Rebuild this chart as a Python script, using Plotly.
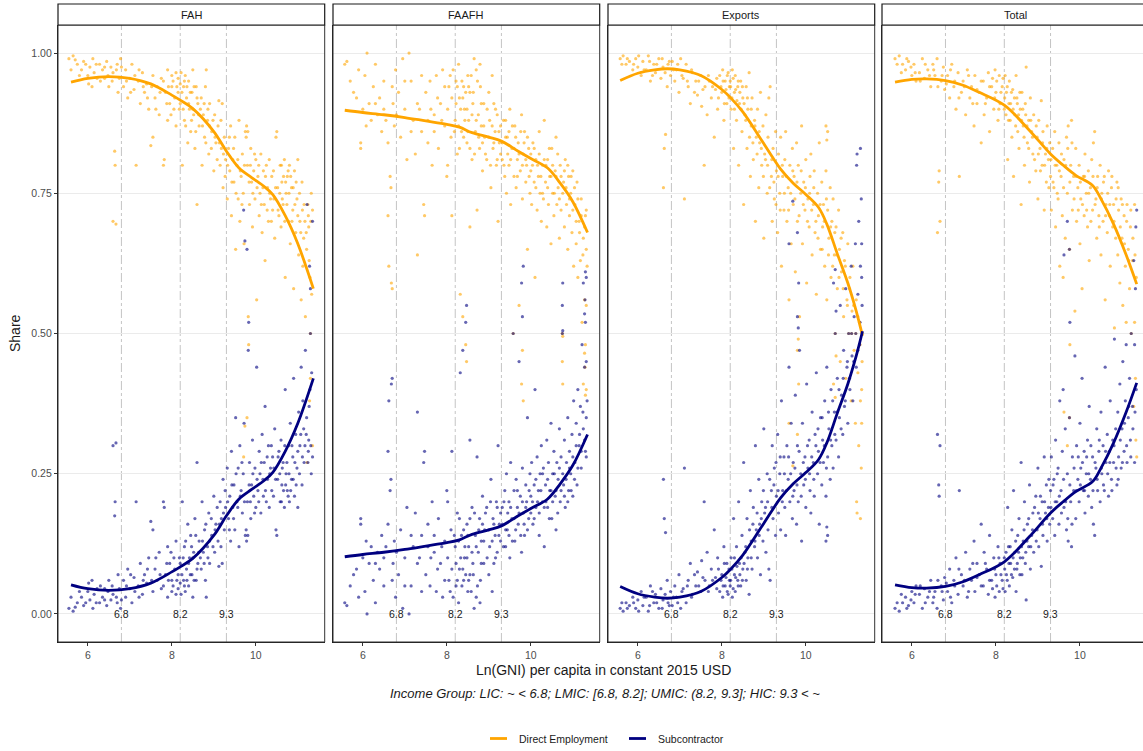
import plotly.graph_objects as go

# ---------------------------------------------------------------------------
# Data: subcontractor share by ln(GNI per capita); direct employment = 1 - share
# ---------------------------------------------------------------------------
PANELS = ["FAH", "FAAFH", "Exports", "Total"]
INCOME_CUTS = [6.8, 8.2, 9.3]
Y_TICKS = [0.0, 0.25, 0.50, 0.75, 1.00]
Y_TICK_TEXT = ["0.00", "0.25", "0.50", "0.75", "1.00"]
X_TICKS = [6, 8, 10]

FAH_SUB_POINTS = [
    (5.55, 0.01), (5.65, 0.005), (5.75, 0.02), (5.85, 0.03), (5.9, 0.015), (6.0, 0.04),
    (6.05, 0.025), (6.1, 0.06), (6.15, 0.035), (6.2, 0.02), (6.3, 0.05), (6.35, 0.03),
    (6.4, 0.045), (6.45, 0.015), (6.5, 0.06), (6.55, 0.025), (6.6, 0.035), (6.6, 0.30),
    (6.67, 0.305), (6.65, 0.20), (6.64, 0.175), (6.7, 0.02), (6.75, 0.045), (6.78, 0.01),
    (6.85, 0.06), (6.9, 0.03), (6.95, 0.08), (7.0, 0.045), (7.05, 0.02), (7.1, 0.065),
    (7.15, 0.2), (7.2, 0.05), (7.25, 0.09), (7.3, 0.035), (7.35, 0.07), (7.4, 0.055),
    (7.45, 0.1), (7.5, 0.165), (7.55, 0.15), (7.55, 0.04), (7.6, 0.08), (7.65, 0.06),
    (7.7, 0.11), (7.75, 0.045), (7.8, 0.2), (7.82, 0.19), (7.85, 0.07), (7.9, 0.12),
    (7.9, 0.03), (7.95, 0.09), (8.0, 0.04), (8.0, 0.06), (8.05, 0.1), (8.1, 0.035),
    (8.1, 0.13), (8.15, 0.07), (8.15, 0.045),
    (8.2, 0.09), (8.22, 0.035), (8.25, 0.2), (8.28, 0.06), (8.3, 0.12), (8.32, 0.04),
    (8.35, 0.08), (8.38, 0.16), (8.4, 0.05), (8.42, 0.1), (8.45, 0.14), (8.48, 0.07),
    (8.5, 0.03), (8.52, 0.11), (8.55, 0.17), (8.58, 0.06), (8.6, 0.27), (8.62, 0.09),
    (8.65, 0.13), (8.7, 0.08), (8.72, 0.2), (8.75, 0.11), (8.78, 0.15), (8.8, 0.06),
    (8.82, 0.03), (8.85, 0.12), (8.88, 0.18), (8.9, 0.09), (8.95, 0.14), (9.0, 0.21),
    (9.02, 0.11), (9.05, 0.16), (9.1, 0.13), (9.12, 0.085), (9.15, 0.2), (9.18, 0.17),
    (9.2, 0.09), (9.22, 0.24), (9.25, 0.15), (9.28, 0.19),
    (9.32, 0.26), (9.35, 0.17), (9.38, 0.21), (9.4, 0.13), (9.42, 0.29), (9.45, 0.19),
    (9.48, 0.23), (9.5, 0.15), (9.52, 0.35), (9.55, 0.2), (9.58, 0.26), (9.6, 0.12),
    (9.62, 0.3), (9.65, 0.22), (9.68, 0.18), (9.7, 0.25), (9.72, 0.34), (9.75, 0.14),
    (9.78, 0.13), (9.8, 0.2), (9.82, 0.47), (9.85, 0.27), (9.88, 0.17), (9.9, 0.23),
    (9.92, 0.31), (9.95, 0.21), (9.98, 0.26), (10.0, 0.19), (10.02, 0.44), (10.05, 0.22),
    (10.08, 0.29), (10.1, 0.25), (10.12, 0.18), (10.15, 0.32), (10.18, 0.21), (10.2, 0.27),
    (10.22, 0.37), (10.25, 0.2), (10.28, 0.24), (10.3, 0.3), (10.32, 0.19), (10.35, 0.26),
    (10.38, 0.22), (10.4, 0.28), (10.42, 0.21), (10.45, 0.33), (10.48, 0.15), (10.5, 0.14),
    (10.52, 0.24), (10.55, 0.29), (10.58, 0.2), (10.6, 0.31), (10.62, 0.23), (10.65, 0.27),
    (10.68, 0.19), (10.7, 0.4), (10.72, 0.25), (10.75, 0.22), (10.78, 0.3), (10.8, 0.2),
    (10.82, 0.34), (10.85, 0.24), (10.88, 0.28), (10.9, 0.42), (10.92, 0.21), (10.95, 0.32),
    (10.98, 0.26), (11.0, 0.19), (11.02, 0.36), (11.05, 0.3), (11.08, 0.44), (11.1, 0.23),
    (11.12, 0.38), (11.15, 0.27), (11.18, 0.47), (11.2, 0.32), (11.22, 0.73), (11.25, 0.29),
    (11.28, 0.62), (11.3, 0.5), (11.32, 0.25), (11.35, 0.7), (11.33, 0.43), (11.3, 0.58),
    (11.27, 0.37), (11.35, 0.28), (9.71, 0.72), (9.74, 0.665), (9.79, 0.65), (9.83, 0.52),
    (5.6, 0.03), (5.7, 0.012), (5.8, 0.04), (5.95, 0.02), (6.02, 0.055), (6.12, 0.01),
    (6.22, 0.045), (6.28, 0.02), (6.4, 0.025), (6.48, 0.04), (6.58, 0.05), (6.68, 0.03),
    (6.72, 0.07), (6.8, 0.025), (6.92, 0.05), (7.02, 0.07), (7.12, 0.04), (7.22, 0.03),
    (7.32, 0.06), (7.42, 0.08), (7.52, 0.06), (7.62, 0.1), (7.72, 0.07), (7.8, 0.05),
    (7.88, 0.09), (7.92, 0.06), (7.98, 0.11), (8.03, 0.05), (8.07, 0.08), (8.12, 0.06),
    (8.18, 0.1), (8.2, 0.055), (8.24, 0.07), (8.27, 0.1), (8.3, 0.05), (8.33, 0.13),
    (8.36, 0.06), (8.4, 0.09), (8.44, 0.07), (8.47, 0.12), (8.5, 0.1), (8.53, 0.06),
    (8.57, 0.14), (8.6, 0.08), (8.64, 0.11), (8.68, 0.1), (8.73, 0.13), (8.77, 0.09),
    (8.81, 0.16), (8.86, 0.1), (8.9, 0.13), (8.94, 0.17), (8.98, 0.12), (9.03, 0.15),
    (9.08, 0.19), (9.13, 0.16), (9.17, 0.12), (9.23, 0.18), (9.27, 0.22), (9.33, 0.2),
    (9.37, 0.15), (9.43, 0.23), (9.47, 0.17), (9.53, 0.25), (9.57, 0.19), (9.63, 0.21),
    (9.67, 0.27), (9.73, 0.2), (9.77, 0.15), (9.81, 0.14), (9.84, 0.23), (9.87, 0.2),
    (9.93, 0.25), (9.97, 0.18), (10.03, 0.24), (10.07, 0.2), (10.13, 0.27), (10.17, 0.24),
    (10.23, 0.22), (10.27, 0.28), (10.33, 0.25), (10.37, 0.3), (10.43, 0.26), (10.47, 0.24),
    (10.53, 0.28), (10.57, 0.25), (10.61, 0.2), (10.63, 0.26), (10.66, 0.22), (10.69, 0.3),
    (10.71, 0.23), (10.74, 0.27), (10.77, 0.21), (10.79, 0.25), (10.83, 0.22), (10.86, 0.3),
    (10.89, 0.24), (10.93, 0.27), (10.96, 0.23), (11.0, 0.29), (11.04, 0.25), (11.07, 0.32),
    (11.11, 0.28), (11.14, 0.33), (11.17, 0.3), (11.21, 0.35), (11.24, 0.27), (11.26, 0.31),
    (11.29, 0.4), (11.31, 0.3),
]

FAAFH_SUB_POINTS = [
    (5.57, 0.02), (5.62, 0.015), (5.7, 0.05), (5.78, 0.07), (5.85, 0.08), (5.95, 0.17),
    (5.95, 0.16), (6.0, 0.1), (6.05, 0.04), (6.1, 0.0), (6.15, 0.09), (6.2, 0.12),
    (6.25, 0.06), (6.3, 0.02), (6.35, 0.11), (6.4, 0.08), (6.45, 0.14), (6.5, 0.05),
    (6.55, 0.12), (6.6, 0.16), (6.6, 0.29), (6.62, 0.38), (6.65, 0.22), (6.67, 0.24),
    (6.68, 0.41), (6.7, 0.42), (6.72, 0.09), (6.75, 0.13), (6.78, 0.03),
    (6.85, 0.07), (6.9, 0.15), (6.95, 0.01), (7.0, 0.1), (7.05, 0.19), (7.1, 0.0),
    (7.15, 0.05), (7.2, 0.12), (7.25, 0.18), (7.3, 0.36), (7.35, 0.1), (7.4, 0.14),
    (7.45, 0.27), (7.47, 0.29), (7.5, 0.07), (7.55, 0.12), (7.6, 0.05), (7.65, 0.2),
    (7.7, 0.11), (7.75, 0.04), (7.8, 0.17), (7.85, 0.09), (7.9, 0.03), (7.95, 0.13),
    (8.0, 0.22), (8.02, 0.2), (8.05, 0.06), (8.1, 0.15), (8.12, 0.29), (8.15, 0.03),
    (8.2, 0.12), (8.22, 0.05), (8.25, 0.18), (8.28, 0.02), (8.3, 0.08), (8.32, 0.43),
    (8.35, 0.14), (8.38, 0.47), (8.4, 0.06), (8.42, 0.1), (8.45, 0.52), (8.47, 0.55),
    (8.48, 0.16), (8.5, 0.04), (8.52, 0.12), (8.55, 0.07), (8.55, 0.31), (8.6, 0.19),
    (8.62, 0.09), (8.65, 0.01), (8.68, 0.14), (8.7, 0.03), (8.72, 0.28), (8.75, 0.11),
    (8.78, 0.17), (8.8, 0.06), (8.82, 0.13), (8.85, 0.21), (8.88, 0.09), (8.9, 0.15),
    (8.95, 0.19), (9.0, 0.07), (9.02, 0.12), (9.05, 0.24), (9.08, 0.04), (9.1, 0.17),
    (9.12, 0.09), (9.15, 0.14), (9.18, 0.2), (9.2, 0.11), (9.22, 0.3), (9.25, 0.16),
    (9.28, 0.13),
    (9.32, 0.19), (9.35, 0.12), (9.38, 0.22), (9.4, 0.15), (9.42, 0.25), (9.45, 0.18),
    (9.48, 0.2), (9.5, 0.1), (9.52, 0.27), (9.55, 0.17), (9.58, 0.5), (9.6, 0.22),
    (9.62, 0.13), (9.65, 0.24), (9.68, 0.19), (9.7, 0.16), (9.72, 0.45), (9.75, 0.21),
    (9.78, 0.11), (9.8, 0.26), (9.82, 0.18), (9.85, 0.14), (9.88, 0.23), (9.9, 0.2),
    (9.92, 0.35), (9.95, 0.17), (9.98, 0.25), (10.0, 0.21), (10.02, 0.27), (10.05, 0.16),
    (10.08, 0.23), (10.1, 0.4), (10.12, 0.19), (10.15, 0.28), (10.18, 0.22), (10.2, 0.14),
    (10.22, 0.25), (10.25, 0.3), (10.28, 0.2), (10.3, 0.26), (10.32, 0.12), (10.35, 0.23),
    (10.38, 0.31), (10.4, 0.19), (10.42, 0.27), (10.45, 0.22), (10.48, 0.34), (10.5, 0.17),
    (10.52, 0.25), (10.55, 0.29), (10.58, 0.21), (10.6, 0.15), (10.62, 0.27), (10.65, 0.24),
    (10.68, 0.33), (10.7, 0.2), (10.72, 0.28), (10.75, 0.5), (10.75, 0.55), (10.78, 0.23),
    (10.8, 0.31), (10.82, 0.19), (10.85, 0.27), (10.88, 0.35), (10.9, 0.22), (10.92, 0.29),
    (10.95, 0.25), (10.98, 0.32), (11.0, 0.21), (11.02, 0.38), (11.05, 0.27), (11.08, 0.34),
    (11.1, 0.23), (11.12, 0.4), (11.15, 0.3), (11.18, 0.37), (11.2, 0.26), (11.22, 0.48),
    (11.25, 0.33), (11.28, 0.44), (11.3, 0.29), (11.32, 0.35), (11.34, 0.38), (11.25, 0.59),
    (11.3, 0.52), (11.32, 0.45), (9.8, 0.53), (9.78, 0.59), (9.82, 0.62), (10.76, 0.59),
    (10.76, 0.505), (11.3, 0.61), (11.29, 0.56), (11.28, 0.535), (11.32, 0.6),
    (5.9, 0.03), (6.08, 0.13), (6.3, 0.09), (6.5, 0.1), (6.7, 0.06), (6.8, 0.11),
    (7.0, 0.05), (7.15, 0.14), (7.3, 0.09), (7.4, 0.04), (7.55, 0.16), (7.62, 0.1),
    (7.7, 0.14), (7.78, 0.08), (7.88, 0.12), (7.95, 0.06), (8.02, 0.1), (8.08, 0.04),
    (8.12, 0.08), (8.18, 0.14), (8.22, 0.09), (8.25, 0.06), (8.28, 0.13), (8.3, 0.17),
    (8.33, 0.1), (8.36, 0.05), (8.38, 0.08), (8.4, 0.15), (8.43, 0.12), (8.45, 0.07),
    (8.48, 0.1), (8.5, 0.14), (8.52, 0.06), (8.55, 0.17), (8.58, 0.04), (8.6, 0.11),
    (8.63, 0.07), (8.66, 0.18), (8.7, 0.12), (8.73, 0.05), (8.76, 0.15), (8.79, 0.02),
    (8.82, 0.09), (8.85, 0.16), (8.88, 0.13), (8.92, 0.18), (8.96, 0.1), (9.0, 0.15),
    (9.04, 0.2), (9.08, 0.13), (9.12, 0.16), (9.16, 0.1), (9.2, 0.19), (9.24, 0.14),
    (9.28, 0.18), (9.32, 0.16), (9.36, 0.2), (9.4, 0.12), (9.44, 0.15), (9.48, 0.14),
    (9.52, 0.19), (9.56, 0.13), (9.6, 0.17), (9.64, 0.15), (9.68, 0.22), (9.72, 0.18),
    (9.76, 0.14), (9.8, 0.2), (9.84, 0.16), (9.88, 0.19), (9.92, 0.15), (9.96, 0.22),
    (10.0, 0.18), (10.04, 0.2), (10.08, 0.17), (10.12, 0.24), (10.16, 0.2), (10.2, 0.18),
    (10.24, 0.22), (10.28, 0.25), (10.32, 0.19), (10.36, 0.2), (10.4, 0.24), (10.44, 0.17),
    (10.48, 0.22), (10.52, 0.2), (10.56, 0.25), (10.6, 0.22), (10.64, 0.18), (10.68, 0.26),
    (10.72, 0.22), (10.76, 0.25), (10.8, 0.21), (10.84, 0.24), (10.88, 0.2), (10.92, 0.26),
    (10.96, 0.22), (11.0, 0.28), (11.04, 0.24), (11.08, 0.3), (11.12, 0.26), (11.16, 0.32),
    (11.2, 0.29), (11.24, 0.36), (11.28, 0.31), (11.32, 0.28),
]

EXPORTS_SUB_POINTS = [
    (5.58, 0.01), (5.65, 0.005), (5.72, 0.02), (5.8, 0.015), (5.88, 0.03), (5.95, 0.01),
    (6.0, 0.025), (6.08, 0.04), (6.12, 0.015), (6.2, 0.03), (6.25, 0.005), (6.3, 0.05),
    (6.38, 0.02), (6.42, 0.035), (6.5, 0.01), (6.55, 0.045), (6.6, 0.025), (6.61, 0.24),
    (6.63, 0.17), (6.66, 0.145), (6.7, 0.06), (6.72, 0.02), (6.78, 0.04),
    (6.82, 0.015), (6.88, 0.05), (6.92, 0.03), (6.98, 0.07), (7.02, 0.01), (7.08, 0.045),
    (7.11, 0.26), (7.15, 0.02), (7.2, 0.06), (7.25, 0.09), (7.3, 0.035), (7.38, 0.05),
    (7.42, 0.075), (7.5, 0.04), (7.52, 0.095), (7.58, 0.2), (7.6, 0.06), (7.65, 0.11),
    (7.7, 0.05), (7.75, 0.08), (7.82, 0.15), (7.85, 0.065), (7.9, 0.1), (7.95, 0.04),
    (8.0, 0.07), (8.02, 0.03), (8.05, 0.12), (8.08, 0.05), (8.12, 0.09), (8.15, 0.035),
    (8.18, 0.06),
    (8.2, 0.05), (8.22, 0.1), (8.25, 0.03), (8.28, 0.17), (8.3, 0.07), (8.32, 0.04),
    (8.35, 0.12), (8.38, 0.06), (8.4, 0.2), (8.42, 0.09), (8.45, 0.05), (8.48, 0.14),
    (8.5, 0.08), (8.52, 0.27), (8.55, 0.11), (8.58, 0.06), (8.6, 0.17), (8.62, 0.1),
    (8.65, 0.035), (8.68, 0.22), (8.7, 0.13), (8.72, 0.08), (8.75, 0.19), (8.78, 0.12),
    (8.8, 0.3), (8.82, 0.15), (8.85, 0.1), (8.88, 0.24), (8.9, 0.16), (8.92, 0.07),
    (8.95, 0.2), (8.98, 0.13), (9.0, 0.33), (9.02, 0.18), (9.05, 0.11), (9.08, 0.25),
    (9.1, 0.15), (9.12, 0.08), (9.15, 0.06), (9.18, 0.22), (9.2, 0.3), (9.22, 0.17),
    (9.25, 0.26), (9.28, 0.14),
    (9.3, 0.21), (9.33, 0.32), (9.35, 0.18), (9.38, 0.25), (9.4, 0.15), (9.42, 0.38),
    (9.45, 0.22), (9.48, 0.28), (9.5, 0.19), (9.52, 0.14), (9.55, 0.3), (9.58, 0.24),
    (9.6, 0.44), (9.62, 0.2), (9.65, 0.34), (9.68, 0.17), (9.7, 0.27), (9.72, 0.22),
    (9.75, 0.39), (9.78, 0.16), (9.8, 0.3), (9.82, 0.2), (9.85, 0.47), (9.88, 0.25),
    (9.9, 0.13), (9.92, 0.34), (9.95, 0.23), (9.98, 0.28), (10.0, 0.19), (10.02, 0.41),
    (10.05, 0.26), (10.08, 0.31), (10.1, 0.22), (10.12, 0.18), (10.15, 0.36), (10.18, 0.27),
    (10.2, 0.21), (10.22, 0.32), (10.25, 0.43), (10.28, 0.25), (10.3, 0.29), (10.32, 0.16),
    (10.35, 0.35), (10.38, 0.23), (10.4, 0.31), (10.42, 0.27), (10.45, 0.38), (10.48, 0.21),
    (10.5, 0.44), (10.52, 0.28), (10.55, 0.33), (10.58, 0.24), (10.6, 0.4), (10.62, 0.3),
    (10.65, 0.26), (10.68, 0.36), (10.7, 0.5), (10.72, 0.31), (10.75, 0.42), (10.78, 0.28),
    (10.8, 0.35), (10.82, 0.55), (10.85, 0.39), (10.88, 0.32), (10.9, 0.47), (10.92, 0.37),
    (10.95, 0.58), (10.98, 0.44), (11.0, 0.34), (11.02, 0.5), (11.05, 0.4), (11.08, 0.62),
    (11.1, 0.46), (11.12, 0.38), (11.15, 0.53), (11.18, 0.66), (11.2, 0.44), (11.22, 0.82),
    (11.21, 0.8), (11.24, 0.57), (11.26, 0.7), (11.28, 0.48), (11.3, 0.62), (11.32, 0.74),
    (11.34, 0.55), (11.3, 0.83), (11.33, 0.66), (10.48, 0.13), (10.52, 0.14), (10.5, 0.155),
    (9.8, 0.53), (9.82, 0.51), (9.69, 0.736), (9.8, 0.68), (9.6, 0.66), (9.83, 0.59),
    (10.7, 0.614), (10.66, 0.59), (10.72, 0.54),
    (5.62, 0.02), (5.75, 0.01), (5.9, 0.02), (6.02, 0.005), (6.15, 0.03), (6.28, 0.015),
    (6.35, 0.04), (6.45, 0.02), (6.58, 0.01), (6.65, 0.035), (6.75, 0.015), (6.85, 0.03),
    (6.95, 0.02), (7.05, 0.04), (7.18, 0.05), (7.28, 0.03), (7.35, 0.07), (7.45, 0.05),
    (7.55, 0.065), (7.68, 0.04), (7.78, 0.06), (7.88, 0.045), (7.92, 0.08), (7.98, 0.06),
    (8.03, 0.05), (8.06, 0.09), (8.1, 0.065), (8.13, 0.04), (8.17, 0.08), (8.21, 0.06),
    (8.24, 0.08), (8.27, 0.045), (8.3, 0.1), (8.33, 0.065), (8.36, 0.085), (8.39, 0.05),
    (8.43, 0.07), (8.46, 0.1), (8.49, 0.06), (8.53, 0.09), (8.57, 0.12), (8.61, 0.08),
    (8.66, 0.15), (8.7, 0.1), (8.74, 0.16), (8.79, 0.13), (8.84, 0.18), (8.89, 0.14),
    (8.94, 0.17), (8.99, 0.22), (9.04, 0.19), (9.09, 0.2), (9.14, 0.24), (9.19, 0.19),
    (9.24, 0.23), (9.29, 0.27), (9.34, 0.22), (9.39, 0.28), (9.44, 0.2), (9.49, 0.25),
    (9.54, 0.22), (9.59, 0.28), (9.64, 0.25), (9.69, 0.21), (9.74, 0.26), (9.79, 0.23),
    (9.84, 0.29), (9.89, 0.21), (9.94, 0.27), (9.99, 0.24), (10.04, 0.3), (10.09, 0.25),
    (10.14, 0.28), (10.19, 0.24), (10.24, 0.3), (10.29, 0.33), (10.34, 0.27), (10.39, 0.35),
    (10.44, 0.3), (10.49, 0.26), (10.54, 0.36), (10.59, 0.31), (10.64, 0.38), (10.69, 0.32),
    (10.74, 0.36), (10.79, 0.4), (10.84, 0.33), (10.89, 0.42), (10.94, 0.38), (10.99, 0.45),
    (11.04, 0.42), (11.09, 0.5), (11.14, 0.45), (11.19, 0.5), (11.24, 0.47), (11.29, 0.52),
    (11.33, 0.6),
]

TOTAL_SUB_POINTS = [
    (5.6, 0.01), (5.7, 0.005), (5.78, 0.02), (5.85, 0.03), (5.92, 0.015), (6.0, 0.04),
    (6.05, 0.02), (6.1, 0.05), (6.18, 0.035), (6.25, 0.01), (6.3, 0.045), (6.38, 0.03),
    (6.45, 0.06), (6.5, 0.02), (6.55, 0.04), (6.6, 0.01), (6.61, 0.32), (6.67, 0.3),
    (6.64, 0.23), (6.65, 0.21), (6.7, 0.05), (6.75, 0.025), (6.78, 0.065),
    (6.85, 0.04), (6.9, 0.08), (6.95, 0.02), (7.0, 0.06), (7.05, 0.1), (7.1, 0.035),
    (7.13, 0.22), (7.18, 0.07), (7.22, 0.05), (7.28, 0.11), (7.32, 0.03), (7.38, 0.08),
    (7.42, 0.06), (7.48, 0.13), (7.5, 0.04), (7.55, 0.09), (7.6, 0.07), (7.65, 0.16),
    (7.7, 0.05), (7.72, 0.11), (7.78, 0.08), (7.82, 0.035), (7.85, 0.14), (7.9, 0.06),
    (7.95, 0.1), (7.98, 0.03), (8.0, 0.07), (8.05, 0.12), (8.08, 0.04), (8.1, 0.09),
    (8.15, 0.06),
    (8.2, 0.1), (8.22, 0.04), (8.25, 0.07), (8.28, 0.19), (8.3, 0.12), (8.32, 0.05),
    (8.35, 0.09), (8.38, 0.15), (8.4, 0.065), (8.42, 0.22), (8.45, 0.11), (8.48, 0.04),
    (8.5, 0.08), (8.52, 0.14), (8.55, 0.17), (8.58, 0.1), (8.6, 0.27), (8.62, 0.07),
    (8.65, 0.13), (8.68, 0.2), (8.7, 0.09), (8.72, 0.025), (8.75, 0.16), (8.78, 0.12),
    (8.8, 0.23), (8.82, 0.08), (8.85, 0.14), (8.88, 0.18), (8.9, 0.11), (8.95, 0.21),
    (8.98, 0.15), (9.0, 0.26), (9.02, 0.12), (9.05, 0.17), (9.08, 0.085), (9.1, 0.2),
    (9.12, 0.14), (9.15, 0.28), (9.18, 0.18), (9.2, 0.23), (9.22, 0.13), (9.25, 0.19),
    (9.28, 0.16),
    (9.3, 0.22), (9.32, 0.28), (9.35, 0.17), (9.38, 0.24), (9.4, 0.14), (9.42, 0.31),
    (9.45, 0.2), (9.48, 0.26), (9.5, 0.16), (9.52, 0.38), (9.55, 0.22), (9.58, 0.29),
    (9.6, 0.4), (9.62, 0.19), (9.65, 0.33), (9.68, 0.15), (9.7, 0.25), (9.72, 0.13),
    (9.75, 0.35), (9.78, 0.2), (9.8, 0.12), (9.82, 0.28), (9.85, 0.22), (9.88, 0.46),
    (9.9, 0.17), (9.92, 0.3), (9.95, 0.24), (9.98, 0.2), (10.0, 0.34), (10.02, 0.26),
    (10.05, 0.42), (10.08, 0.22), (10.1, 0.29), (10.12, 0.18), (10.15, 0.25), (10.18, 0.31),
    (10.2, 0.21), (10.22, 0.37), (10.25, 0.24), (10.28, 0.19), (10.3, 0.28), (10.32, 0.16),
    (10.35, 0.14), (10.38, 0.26), (10.4, 0.33), (10.42, 0.22), (10.45, 0.29), (10.48, 0.2),
    (10.5, 0.36), (10.52, 0.25), (10.55, 0.3), (10.58, 0.22), (10.6, 0.44), (10.62, 0.27),
    (10.65, 0.32), (10.68, 0.21), (10.7, 0.29), (10.72, 0.38), (10.75, 0.24), (10.78, 0.31),
    (10.8, 0.27), (10.82, 0.49), (10.85, 0.33), (10.88, 0.23), (10.9, 0.36), (10.92, 0.28),
    (10.95, 0.41), (10.98, 0.26), (11.0, 0.33), (11.02, 0.45), (11.05, 0.29), (11.08, 0.38),
    (11.1, 0.48), (11.12, 0.27), (11.15, 0.35), (11.18, 0.42), (11.2, 0.31), (11.22, 0.5),
    (11.25, 0.37), (11.28, 0.63), (11.3, 0.27), (11.32, 0.58), (11.33, 0.69), (11.35, 0.72),
    (11.3, 0.48), (11.34, 0.4), (9.7, 0.7), (9.62, 0.64), (9.75, 0.65), (9.76, 0.52),
    (5.65, 0.02), (5.75, 0.035), (5.88, 0.01), (5.98, 0.025), (6.08, 0.035), (6.2, 0.05),
    (6.32, 0.02), (6.42, 0.04), (6.52, 0.03), (6.62, 0.06), (6.72, 0.04), (6.82, 0.055),
    (6.92, 0.03), (7.02, 0.05), (7.12, 0.08), (7.25, 0.06), (7.35, 0.04), (7.45, 0.09),
    (7.55, 0.065), (7.65, 0.05), (7.75, 0.09), (7.85, 0.06), (7.92, 0.045), (7.97, 0.08),
    (8.02, 0.05), (8.07, 0.1), (8.12, 0.07), (8.17, 0.045), (8.21, 0.08), (8.24, 0.11),
    (8.27, 0.06), (8.31, 0.09), (8.34, 0.12), (8.37, 0.07), (8.41, 0.1), (8.44, 0.08),
    (8.47, 0.13), (8.51, 0.09), (8.54, 0.11), (8.57, 0.07), (8.61, 0.12), (8.64, 0.1),
    (8.67, 0.15), (8.71, 0.11), (8.74, 0.13), (8.78, 0.17), (8.83, 0.12), (8.87, 0.15),
    (8.92, 0.19), (8.96, 0.13), (9.01, 0.18), (9.06, 0.21), (9.11, 0.16), (9.16, 0.2),
    (9.21, 0.17), (9.26, 0.24), (9.31, 0.19), (9.36, 0.23), (9.41, 0.2), (9.46, 0.25),
    (9.51, 0.21), (9.56, 0.18), (9.61, 0.24), (9.66, 0.2), (9.71, 0.17), (9.76, 0.23),
    (9.81, 0.16), (9.86, 0.26), (9.91, 0.22), (9.96, 0.28), (10.01, 0.23), (10.06, 0.27),
    (10.11, 0.22), (10.16, 0.28), (10.21, 0.25), (10.26, 0.3), (10.31, 0.22), (10.36, 0.27),
    (10.41, 0.24), (10.46, 0.31), (10.51, 0.26), (10.56, 0.23), (10.61, 0.29), (10.66, 0.25),
    (10.71, 0.27), (10.76, 0.22), (10.81, 0.3), (10.86, 0.26), (10.91, 0.24), (10.96, 0.31),
    (11.01, 0.27), (11.06, 0.34), (11.11, 0.3), (11.16, 0.37), (11.21, 0.28), (11.26, 0.33),
    (11.31, 0.36),
]

# Loess-style fitted subcontractor share (x, fitted share)
FAH_SUB_FIT = [
    (5.6, 0.052), (6.0, 0.045), (6.5, 0.042), (7.0, 0.045), (7.5, 0.055), (8.0, 0.075),
    (8.2, 0.084), (8.5, 0.099), (9.0, 0.14), (9.3, 0.175), (9.6, 0.205), (9.9, 0.222),
    (10.2, 0.238), (10.4, 0.252), (10.7, 0.29), (11.0, 0.34), (11.37, 0.42),
]
FAAFH_SUB_FIT = [
    (5.57, 0.102), (6.0, 0.106), (6.5, 0.110), (7.0, 0.115), (7.5, 0.121), (8.0, 0.127),
    (8.3, 0.132), (8.6, 0.142), (9.0, 0.150), (9.3, 0.157), (9.7, 0.175), (10.0, 0.188),
    (10.4, 0.205), (10.7, 0.232), (11.0, 0.265), (11.35, 0.32),
]
EXPORTS_SUB_FIT = [
    (5.58, 0.049), (6.0, 0.036), (6.4, 0.030), (6.7, 0.028), (7.0, 0.030), (7.5, 0.040),
    (8.0, 0.065), (8.2, 0.079), (8.5, 0.105), (8.9, 0.150), (9.2, 0.185), (9.4, 0.207),
    (9.7, 0.232), (10.0, 0.252), (10.3, 0.275), (10.5, 0.305), (10.75, 0.358), (11.0, 0.41),
    (11.2, 0.46), (11.35, 0.504),
]
TOTAL_SUB_FIT = [
    (5.6, 0.052), (6.0, 0.047), (6.35, 0.046), (6.8, 0.049), (7.2, 0.057), (7.6, 0.07),
    (8.2, 0.093), (8.8, 0.138), (9.3, 0.18), (9.6, 0.2), (9.9, 0.218), (10.3, 0.236),
    (10.5, 0.26), (10.8, 0.305), (11.1, 0.36), (11.35, 0.412),
]

SUB_POINTS = [FAH_SUB_POINTS, FAAFH_SUB_POINTS, EXPORTS_SUB_POINTS, TOTAL_SUB_POINTS]
SUB_FITS = [FAH_SUB_FIT, FAAFH_SUB_FIT, EXPORTS_SUB_FIT, TOTAL_SUB_FIT]

# ---------------------------------------------------------------------------
# Styling / layout
# ---------------------------------------------------------------------------
W, H = 1143, 751
ORANGE = "#FFA500"
NAVY = "#000080"
FONT = "Liberation Sans, Arial, Helvetica, sans-serif"
TXT = "#1a1a1a"
GREY_TXT = "#4d4d4d"


def fx(px):
    return px / W


def fy(py):
    return 1 - py / H


PANEL_LEFT = [58, 333, 608, 882]
PANEL_WIDTH = 266.7
X_RANGES = [[5.29, 11.64], [5.29, 11.64], [5.29, 11.64], [5.29, 11.5]]
Y_DOMAIN = [fy(642), fy(25)]
STRIP = [fy(25), fy(4)]

fig = go.Figure()

for i, (pts, fit) in enumerate(zip(SUB_POINTS, SUB_FITS)):
    xa = "x" if i == 0 else f"x{i+1}"
    ya = "y" if i == 0 else f"y{i+1}"
    gx = [p[0] for p in pts]
    sub = [p[1] for p in pts]
    direct = [1 - v for v in sub]
    fit_x = [p[0] for p in fit]
    fit_sub = [p[1] for p in fit]
    fit_direct = [1 - v for v in fit_sub]

    fig.add_trace(go.Scatter(x=gx, y=direct, mode="markers", xaxis=xa, yaxis=ya,
                             marker=dict(color=ORANGE, size=3.2, opacity=0.6, line=dict(width=0)),
                             showlegend=False, hoverinfo="skip"))
    fig.add_trace(go.Scatter(x=gx, y=sub, mode="markers", xaxis=xa, yaxis=ya,
                             marker=dict(color=NAVY, size=3.2, opacity=0.6, line=dict(width=0)),
                             showlegend=False, hoverinfo="skip"))
    fig.add_trace(go.Scatter(x=fit_x, y=fit_direct, mode="lines", xaxis=xa, yaxis=ya,
                             line=dict(color=ORANGE, width=2.8, shape="spline", smoothing=1.0),
                             showlegend=False, hoverinfo="skip"))
    fig.add_trace(go.Scatter(x=fit_x, y=fit_sub, mode="lines", xaxis=xa, yaxis=ya,
                             line=dict(color=NAVY, width=2.8, shape="spline", smoothing=1.0),
                             showlegend=False, hoverinfo="skip"))

layout = dict(
    width=W, height=H,
    margin=dict(l=0, r=0, t=0, b=0),
    paper_bgcolor="white", plot_bgcolor="white",
    showlegend=False,
    font=dict(family=FONT, color=TXT),
)

shapes = []
annotations = []

for i in range(4):
    left = PANEL_LEFT[i]
    right = left + PANEL_WIDTH
    x0 = fx(left)
    x1 = fx(right) if i < 3 else 1.0
    xname = "xaxis" if i == 0 else f"xaxis{i+1}"
    yname = "yaxis" if i == 0 else f"yaxis{i+1}"
    xref = "x" if i == 0 else f"x{i+1}"
    yref = "y" if i == 0 else f"y{i+1}"
    layout[xname] = dict(
        domain=[x0, x1], range=X_RANGES[i], anchor=yref,
        tickvals=X_TICKS, ticktext=[str(t) for t in X_TICKS],
        ticks="outside", ticklen=3, tickwidth=1, tickcolor="#333333",
        tickfont=dict(size=10.5, color=GREY_TXT, family=FONT),
        showgrid=False, zeroline=False,
        showline=True, linecolor="#1a1a1a", linewidth=1.2,
        fixedrange=True,
    )
    layout[yname] = dict(
        domain=Y_DOMAIN, range=[-0.05, 1.05], anchor=xref,
        tickvals=Y_TICKS, ticktext=Y_TICK_TEXT,
        showticklabels=(i == 0),
        ticks="outside" if i == 0 else "", ticklen=3, tickwidth=1, tickcolor="#333333",
        tickfont=dict(size=10.5, color=GREY_TXT, family=FONT),
        showgrid=True, gridcolor="#ebebeb", gridwidth=1, zeroline=False,
        showline=True, linecolor="#1a1a1a", linewidth=1.2,
        fixedrange=True,
    )

    # Panel frame (the last panel runs off the right edge)
    frame_x1 = fx(right) if i < 3 else 1.01
    shapes.append(dict(type="rect", xref="paper", yref="paper",
                       x0=x0, x1=frame_x1, y0=Y_DOMAIN[0], y1=Y_DOMAIN[1],
                       line=dict(color="#333333", width=1), fillcolor="rgba(0,0,0,0)",
                       layer="above"))
    # Facet strip
    shapes.append(dict(type="rect", xref="paper", yref="paper",
                       x0=x0, x1=frame_x1, y0=STRIP[0], y1=STRIP[1],
                       line=dict(color="#1a1a1a", width=1.2), fillcolor="white",
                       layer="above"))
    annotations.append(dict(text=PANELS[i], xref="paper", yref="paper",
                            x=(x0 + fx(right)) / 2, y=(STRIP[0] + STRIP[1]) / 2,
                            showarrow=False, font=dict(size=11, color=TXT, family=FONT),
                            xanchor="center", yanchor="middle"))

    # Income-group thresholds
    for cut in INCOME_CUTS:
        shapes.append(dict(type="line", xref=xref, yref=f"{yref} domain",
                           x0=cut, x1=cut, y0=0, y1=1,
                           line=dict(color="#c4c4c4", width=1, dash="dashdot"),
                           layer="below"))
        annotations.append(dict(text=f"{cut}", xref=xref, yref=yref, x=cut, y=0,
                                showarrow=False, font=dict(size=10.5, color=TXT, family=FONT),
                                xanchor="center", yanchor="middle"))

# Axis titles and caption
annotations.append(dict(text="Share", xref="paper", yref="paper", x=fx(15), y=fy(333),
                        textangle=-90, showarrow=False,
                        font=dict(size=14, color=TXT, family=FONT),
                        xanchor="center", yanchor="middle"))
annotations.append(dict(text="Ln(GNI) per capita in constant 2015 USD", xref="paper", yref="paper",
                        x=fx(603.5), y=fy(670), showarrow=False,
                        font=dict(size=14, color=TXT, family=FONT),
                        xanchor="center", yanchor="middle"))
annotations.append(dict(text="<i>Income Group: LIC: ~ < 6.8; LMIC: [6.8, 8.2]; UMIC: (8.2, 9.3]; HIC: 9.3 < ~</i>",
                        xref="paper", yref="paper", x=fx(605), y=fy(693), showarrow=False,
                        font=dict(size=13, color=TXT, family=FONT),
                        xanchor="center", yanchor="middle"))

# Legend keys drawn as short ggplot-style line segments
LEGEND_ITEMS = [("Direct Employment", ORANGE, 490), ("Subcontractor", NAVY, 629)]
for label, color, key_px in LEGEND_ITEMS:
    shapes.append(dict(type="line", xref="paper", yref="paper",
                       x0=fx(key_px), x1=fx(key_px + 17), y0=fy(738.5), y1=fy(738.5),
                       line=dict(color=color, width=2.8)))
    annotations.append(dict(text=label, xref="paper", yref="paper",
                            x=fx(key_px + 27), y=fy(738.5), showarrow=False,
                            font=dict(size=10.5, color=TXT, family=FONT),
                            xanchor="left", yanchor="middle"))

layout["shapes"] = shapes
layout["annotations"] = annotations
fig.update_layout(**layout)

fig.write_html("out.html", config={"displayModeBar": False})
